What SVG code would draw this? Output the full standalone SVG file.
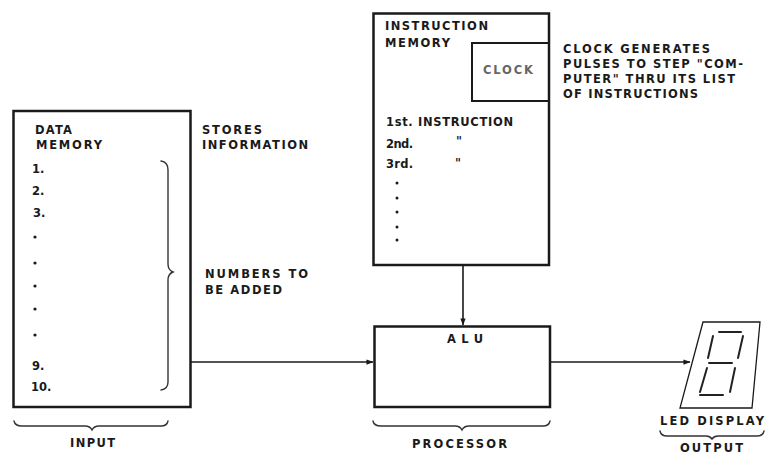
<svg xmlns="http://www.w3.org/2000/svg" width="767" height="458" viewBox="0 0 767 458">
<defs>
<style>
text{font-family:"DejaVu Sans","Liberation Sans",sans-serif;font-size:11.5px;font-weight:bold;fill:#1a1a1a}
.box{fill:none;stroke:#1a1a1a;stroke-width:2.5}
.thin{fill:none;stroke:#1a1a1a;stroke-width:1.6}
.brace{fill:none;stroke:#333;stroke-width:1.4;stroke-linecap:round}
.seg{stroke:#222;stroke-width:2;stroke-linecap:round}
.gray{fill:#666}
</style>
<marker id="arr" viewBox="0 0 8 8" refX="7.5" refY="4" markerWidth="7" markerHeight="7" markerUnits="userSpaceOnUse" orient="auto">
<path d="M0,1 L8,4 L0,7 z" fill="#1a1a1a"/>
</marker>
</defs>
<rect width="767" height="458" fill="#fff"/>

<g id="data-memory">
<rect class="box" x="13.5" y="111" width="177" height="296"/>
<text x="35" y="134" textLength="37" lengthAdjust="spacing">DATA</text>
<text x="36" y="149" textLength="66" lengthAdjust="spacing">MEMORY</text>
<text x="32" y="173" font-weight="normal">1.</text>
<text x="32" y="195">2.</text>
<text x="33" y="217">3.</text>
<circle cx="35" cy="237" r="1.6" fill="#1a1a1a"/>
<circle cx="35" cy="263" r="1.6" fill="#1a1a1a"/>
<circle cx="35" cy="286" r="1.6" fill="#1a1a1a"/>
<circle cx="35" cy="309" r="1.6" fill="#1a1a1a"/>
<circle cx="35" cy="335" r="1.6" fill="#1a1a1a"/>
<text x="32" y="370">9.</text>
<text x="31" y="391" font-weight="normal">10.</text>
<path class="brace" d="M161,161 Q168,162 168,170 L168,264 Q168,270 173,272 Q168,274 168,280 L168,382 Q168,389 161,390"/>
</g>

<g id="data-notes">
<text x="202" y="134" textLength="60" lengthAdjust="spacing">STORES</text>
<text x="202" y="149" textLength="106" lengthAdjust="spacing">INFORMATION</text>
<text x="205" y="278" textLength="103" lengthAdjust="spacing">NUMBERS TO</text>
<text x="205" y="294" textLength="77" lengthAdjust="spacing">BE ADDED</text>
</g>

<g id="input-label">
<path class="brace" d="M14,421 Q15,426 22,426 L85,426 Q90,426 92,430 Q94,426 99,426 L161,426 Q167,426 168,421"/>
<text x="70" y="447" textLength="45" lengthAdjust="spacing">INPUT</text>
</g>

<g id="instruction-memory">
<rect class="box" x="373.5" y="13.5" width="175.5" height="251.5"/>
<text x="385" y="30" textLength="103" lengthAdjust="spacing">INSTRUCTION</text>
<text x="385" y="47" textLength="65" lengthAdjust="spacing">MEMORY</text>
<text x="386" y="126" textLength="127" lengthAdjust="spacing">1st. INSTRUCTION</text>
<text x="386" y="148" textLength="27" lengthAdjust="spacing">2nd.</text>
<text x="386" y="168" textLength="27" lengthAdjust="spacing">3rd.</text>
<text x="456" y="145">"</text>
<text x="455" y="167">"</text>
<circle cx="397" cy="183" r="1.5" fill="#1a1a1a"/>
<circle cx="397" cy="198" r="1.5" fill="#1a1a1a"/>
<circle cx="397" cy="212" r="1.5" fill="#1a1a1a"/>
<circle cx="397" cy="227" r="1.5" fill="#1a1a1a"/>
<circle cx="397" cy="240" r="1.5" fill="#1a1a1a"/>
</g>

<g id="clock">
<path class="box" style="stroke-width:2" d="M549,43 L472,43 L472,101 L549,101"/>
<text class="gray" x="483" y="74" textLength="50" lengthAdjust="spacing">CLOCK</text>
</g>

<g id="clock-note">
<text x="563" y="53" textLength="147" lengthAdjust="spacing">CLOCK GENERATES</text>
<text x="563" y="68" textLength="180" lengthAdjust="spacing">PULSES TO STEP "COM-</text>
<text x="563" y="83" textLength="172" lengthAdjust="spacing">PUTER" THRU ITS LIST</text>
<text x="563" y="98" textLength="135" lengthAdjust="spacing">OF INSTRUCTIONS</text>
</g>

<g id="alu">
<rect class="box" x="374.5" y="326.5" width="175.5" height="80.5"/>
<text x="447" y="343" textLength="36" lengthAdjust="spacing">ALU</text>
</g>

<g id="processor-label">
<path class="brace" d="M373,421 Q374,426 381,426 L455,426 Q460,426 462,430 Q464,426 469,426 L543,426 Q549,426 550,421"/>
<text x="412" y="448" textLength="95" lengthAdjust="spacing">PROCESSOR</text>
</g>

<g id="led-display">
<path class="thin" style="stroke-width:1.3" d="M703,322 L760,322 L752,408 L680,408 Z"/>
<line class="seg" x1="719" y1="332" x2="741" y2="332"/>
<line class="seg" x1="713" y1="336" x2="708" y2="358"/>
<line class="seg" x1="743" y1="336" x2="738" y2="358"/>
<line class="seg" x1="709" y1="363" x2="732" y2="363"/>
<line class="seg" x1="707" y1="368" x2="700" y2="392"/>
<line class="seg" x1="735" y1="368" x2="730" y2="392"/>
<line class="seg" x1="700" y1="395" x2="723" y2="395"/>
<text x="660" y="425" textLength="104" lengthAdjust="spacing">LED DISPLAY</text>
</g>

<g id="output-label">
<path class="brace" d="M660,431 Q661,436 667,436 L706,436 Q710,436 712,439 Q714,436 718,436 L757,436 Q763,436 764,431"/>
<text x="680" y="452" textLength="63" lengthAdjust="spacing">OUTPUT</text>
</g>

<g id="connectors">
<line class="thin" x1="191" y1="362" x2="373" y2="362" marker-end="url(#arr)"/>
<line class="thin" x1="463" y1="265" x2="463" y2="325" marker-end="url(#arr)"/>
<line class="thin" x1="550" y1="362" x2="690" y2="362" marker-end="url(#arr)"/>
</g>
</svg>
